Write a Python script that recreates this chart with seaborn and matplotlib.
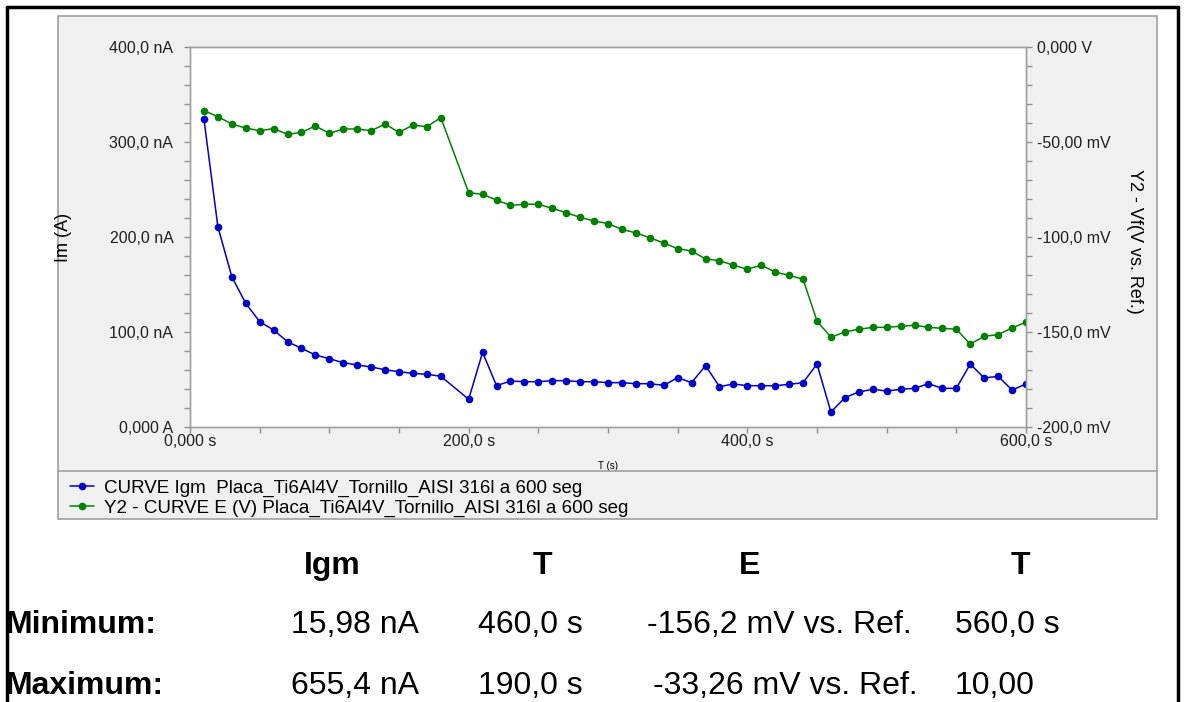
import numpy as np
import pandas as pd
import matplotlib.pyplot as plt
import seaborn as sns
from matplotlib.patches import Rectangle
from matplotlib.lines import Line2D
from matplotlib.ticker import MultipleLocator, FixedLocator

# Datos (190 s no aparece en la curva)
tiempo = [10, 20, 30, 40, 50, 60, 70, 80, 90, 100, 110, 120, 130, 140, 150, 160, 170, 180,
          200, 210, 220, 230, 240, 250, 260, 270, 280, 290, 300, 310, 320, 330, 340, 350,
          360, 370, 380, 390, 400, 410, 420, 430, 440, 450, 460, 470, 480, 490, 500, 510,
          520, 530, 540, 550, 560, 570, 580, 590, 600]
igm_nA = [324.5, 211.2, 158.5, 130.5, 111.2, 102.4, 90.1, 83.1, 76.1, 72.2, 68.0, 65.6, 63.5,
          60.6, 58.5, 56.8, 55.8, 53.7,
          29.5, 78.9, 43.8, 48.7, 48.0, 48.0, 49.1, 49.1, 48.0, 48.0, 47.0, 47.0, 45.9, 45.9,
          44.2, 52.2, 47.0, 64.9, 42.8, 45.6, 43.8, 43.8, 43.8, 45.2, 47.0, 66.6, 16.0, 31.2,
          37.2, 40.0, 38.2, 40.0, 41.0, 45.9, 41.0, 41.0, 66.6, 51.9, 53.7, 39.3, 45.6]
e_mV = [-33.3, -36.5, -40.4, -42.5, -43.9, -42.8, -45.8, -44.8, -41.4, -45.3, -43.0, -43.0,
        -43.9, -40.4, -44.8, -40.9, -41.8, -37.0,
        -76.5, -77.4, -80.4, -83.2, -82.6, -82.6, -84.8, -87.0, -89.5, -91.4, -92.8, -95.8,
        -97.7, -100.2, -103.0, -106.0, -107.2, -111.4, -112.3, -114.7, -116.8, -114.7, -118.3,
        -120.0, -122.1, -144.1, -152.6, -149.8, -148.4, -147.4, -147.4, -146.8, -146.3,
        -147.4, -147.9, -148.4, -156.2, -152.1, -151.2, -147.7, -144.7]

x_ticks = [0, 200, 400, 600]
x_labels = ["0,000 s", "200,0 s", "400,0 s", "600,0 s"]
y_ticks = [0, 100, 200, 300, 400]
y_labels = ["0,000 A", "100,0 nA", "200,0 nA", "300,0 nA", "400,0 nA"]
y2_ticks = [-200, -150, -100, -50, 0]
y2_labels = ["-200,0 mV", "-150,0 mV", "-100,0 mV", "-50,00 mV", "0,000 V"]

leyenda = ["CURVE Igm  Placa_Ti6Al4V_Tornillo_AISI 316l a 600 seg",
           "Y2 - CURVE E (V) Placa_Ti6Al4V_Tornillo_AISI 316l a 600 seg"]

cabeceras = ["Igm", "T", "E", "T"]
fila_min = ["15,98 nA", "460,0 s", "-156,2 mV vs. Ref.", "560,0 s"]
fila_max = ["655,4 nA", "190,0 s", "-33,26 mV vs. Ref.", "10,00"]

df = pd.DataFrame({"t": tiempo, "igm": igm_nA, "e": e_mV})

sns.set_style("white")
plt.rcParams['font.family'] = ['Liberation Sans', 'DejaVu Sans']
plt.rcParams['text.color'] = 'black'
plt.rcParams['axes.labelcolor'] = 'black'
plt.rcParams['xtick.labelcolor'] = '#202020'
plt.rcParams['ytick.labelcolor'] = '#202020'

W, H = 1184, 702
fig = plt.figure(figsize=(W / 100, H / 100), dpi=100)
fig.patch.set_facecolor("white")


def px(x, y):
    return x / W, 1 - y / H


# panel gris de fondo
fig.add_artist(Rectangle(px(58, 519), (1157 - 58) / W, (519 - 16) / H,
                         transform=fig.transFigure, facecolor="#f0f0f0",
                         edgecolor="#a0a0a0", linewidth=1.2, zorder=0))
fig.add_artist(Line2D([58 / W, 1157 / W], [1 - 471 / H, 1 - 471 / H],
                      transform=fig.transFigure, color="#a0a0a0", linewidth=1.2, zorder=1))
# marco negro
for xs, ys in [([7, 7], [7, 702]), ([1178, 1178], [7, 702]), ([7, 1178], [7, 7])]:
    fig.add_artist(Line2D([x / W for x in xs], [1 - y / H for y in ys],
                          transform=fig.transFigure, color="black", linewidth=2.5, zorder=5))

ax_left, ax_right, ax_top, ax_bot = 190, 1026, 47.3, 427.3
ax = fig.add_axes([ax_left / W, 1 - ax_bot / H, (ax_right - ax_left) / W, (ax_bot - ax_top) / H])
ax.set_facecolor("white")
ax2 = ax.twinx()

azul = "#0000c8"
verde = "#008200"
sns.lineplot(data=df, x="t", y="igm", ax=ax, color=azul, marker="o", markersize=5.5,
             markeredgewidth=0, linewidth=1.1, label=leyenda[0], legend=False)
sns.lineplot(data=df, x="t", y="e", ax=ax2, color=verde, marker="o", markersize=5.5,
             markeredgewidth=0, linewidth=1.1, label=leyenda[1], legend=False)

ax.set_xlim(0, 600)
ax.set_ylim(0, 400)
ax2.set_ylim(-200, 0)

ax.xaxis.set_major_locator(FixedLocator(x_ticks))
ax.set_xticklabels(x_labels)
ax.xaxis.set_minor_locator(MultipleLocator(50))
ax.yaxis.set_major_locator(FixedLocator(y_ticks))
ax.set_yticklabels(y_labels)
ax.yaxis.set_minor_locator(MultipleLocator(20))
ax2.yaxis.set_major_locator(FixedLocator(y2_ticks))
ax2.set_yticklabels(y2_labels)
ax2.yaxis.set_minor_locator(MultipleLocator(10))

tick_col = "#909090"
ax.tick_params(axis="x", which="both", direction="out", length=4, width=1, color=tick_col,
               labelsize=11.5, pad=1, bottom=True)
ax.tick_params(axis="y", which="both", direction="out", length=4, width=1, color=tick_col,
               labelsize=11.5, pad=8, left=True)
ax2.tick_params(axis="y", which="both", direction="out", length=4, width=1, color=tick_col,
                labelsize=11.5, pad=4, right=True)
for a in (ax, ax2):
    for s in a.spines.values():
        s.set_color("#a0a0a0")
        s.set_linewidth(1)

ax.set_xlabel("T (s)", fontsize=7)
ax.xaxis.set_label_coords(0.5, -0.088)
ax.set_ylabel("Im (A)", fontsize=13)
ax.yaxis.set_label_coords(-0.141, 0.5)
ax2.set_ylabel("Y2 - Vf(V vs. Ref.)", fontsize=13, rotation=-90, va="center")
ax2.yaxis.set_label_coords(1.130, 0.49)

handles = [ax.lines[0], ax2.lines[0]]
fig.legend(handles=handles, labels=leyenda, loc="upper left",
           bbox_to_anchor=px(62, 472), frameon=False, fontsize=13.5,
           handlelength=1.3, handletextpad=0.55, labelspacing=0.14, borderaxespad=0)

# tabla de minimos / maximos
fs = 23
for texto, xc in zip(cabeceras, [332, 542, 750, 1020]):
    fig.text(*px(xc, 566), texto, fontsize=fs, fontweight="bold", ha="center", va="center")
fig.text(*px(6, 625), "Minimum:", fontsize=fs, fontweight="bold", ha="left", va="center")
fig.text(*px(6, 686), "Maximum:", fontsize=fs, fontweight="bold", ha="left", va="center")
for texto, xl in zip(fila_min, [291, 478, 647, 955]):
    fig.text(*px(xl, 625), texto, fontsize=fs, ha="left", va="center")
for texto, xl in zip(fila_max, [291, 478, 653, 955]):
    fig.text(*px(xl, 686), texto, fontsize=fs, ha="left", va="center")

fig.savefig("out.png", dpi=100)
